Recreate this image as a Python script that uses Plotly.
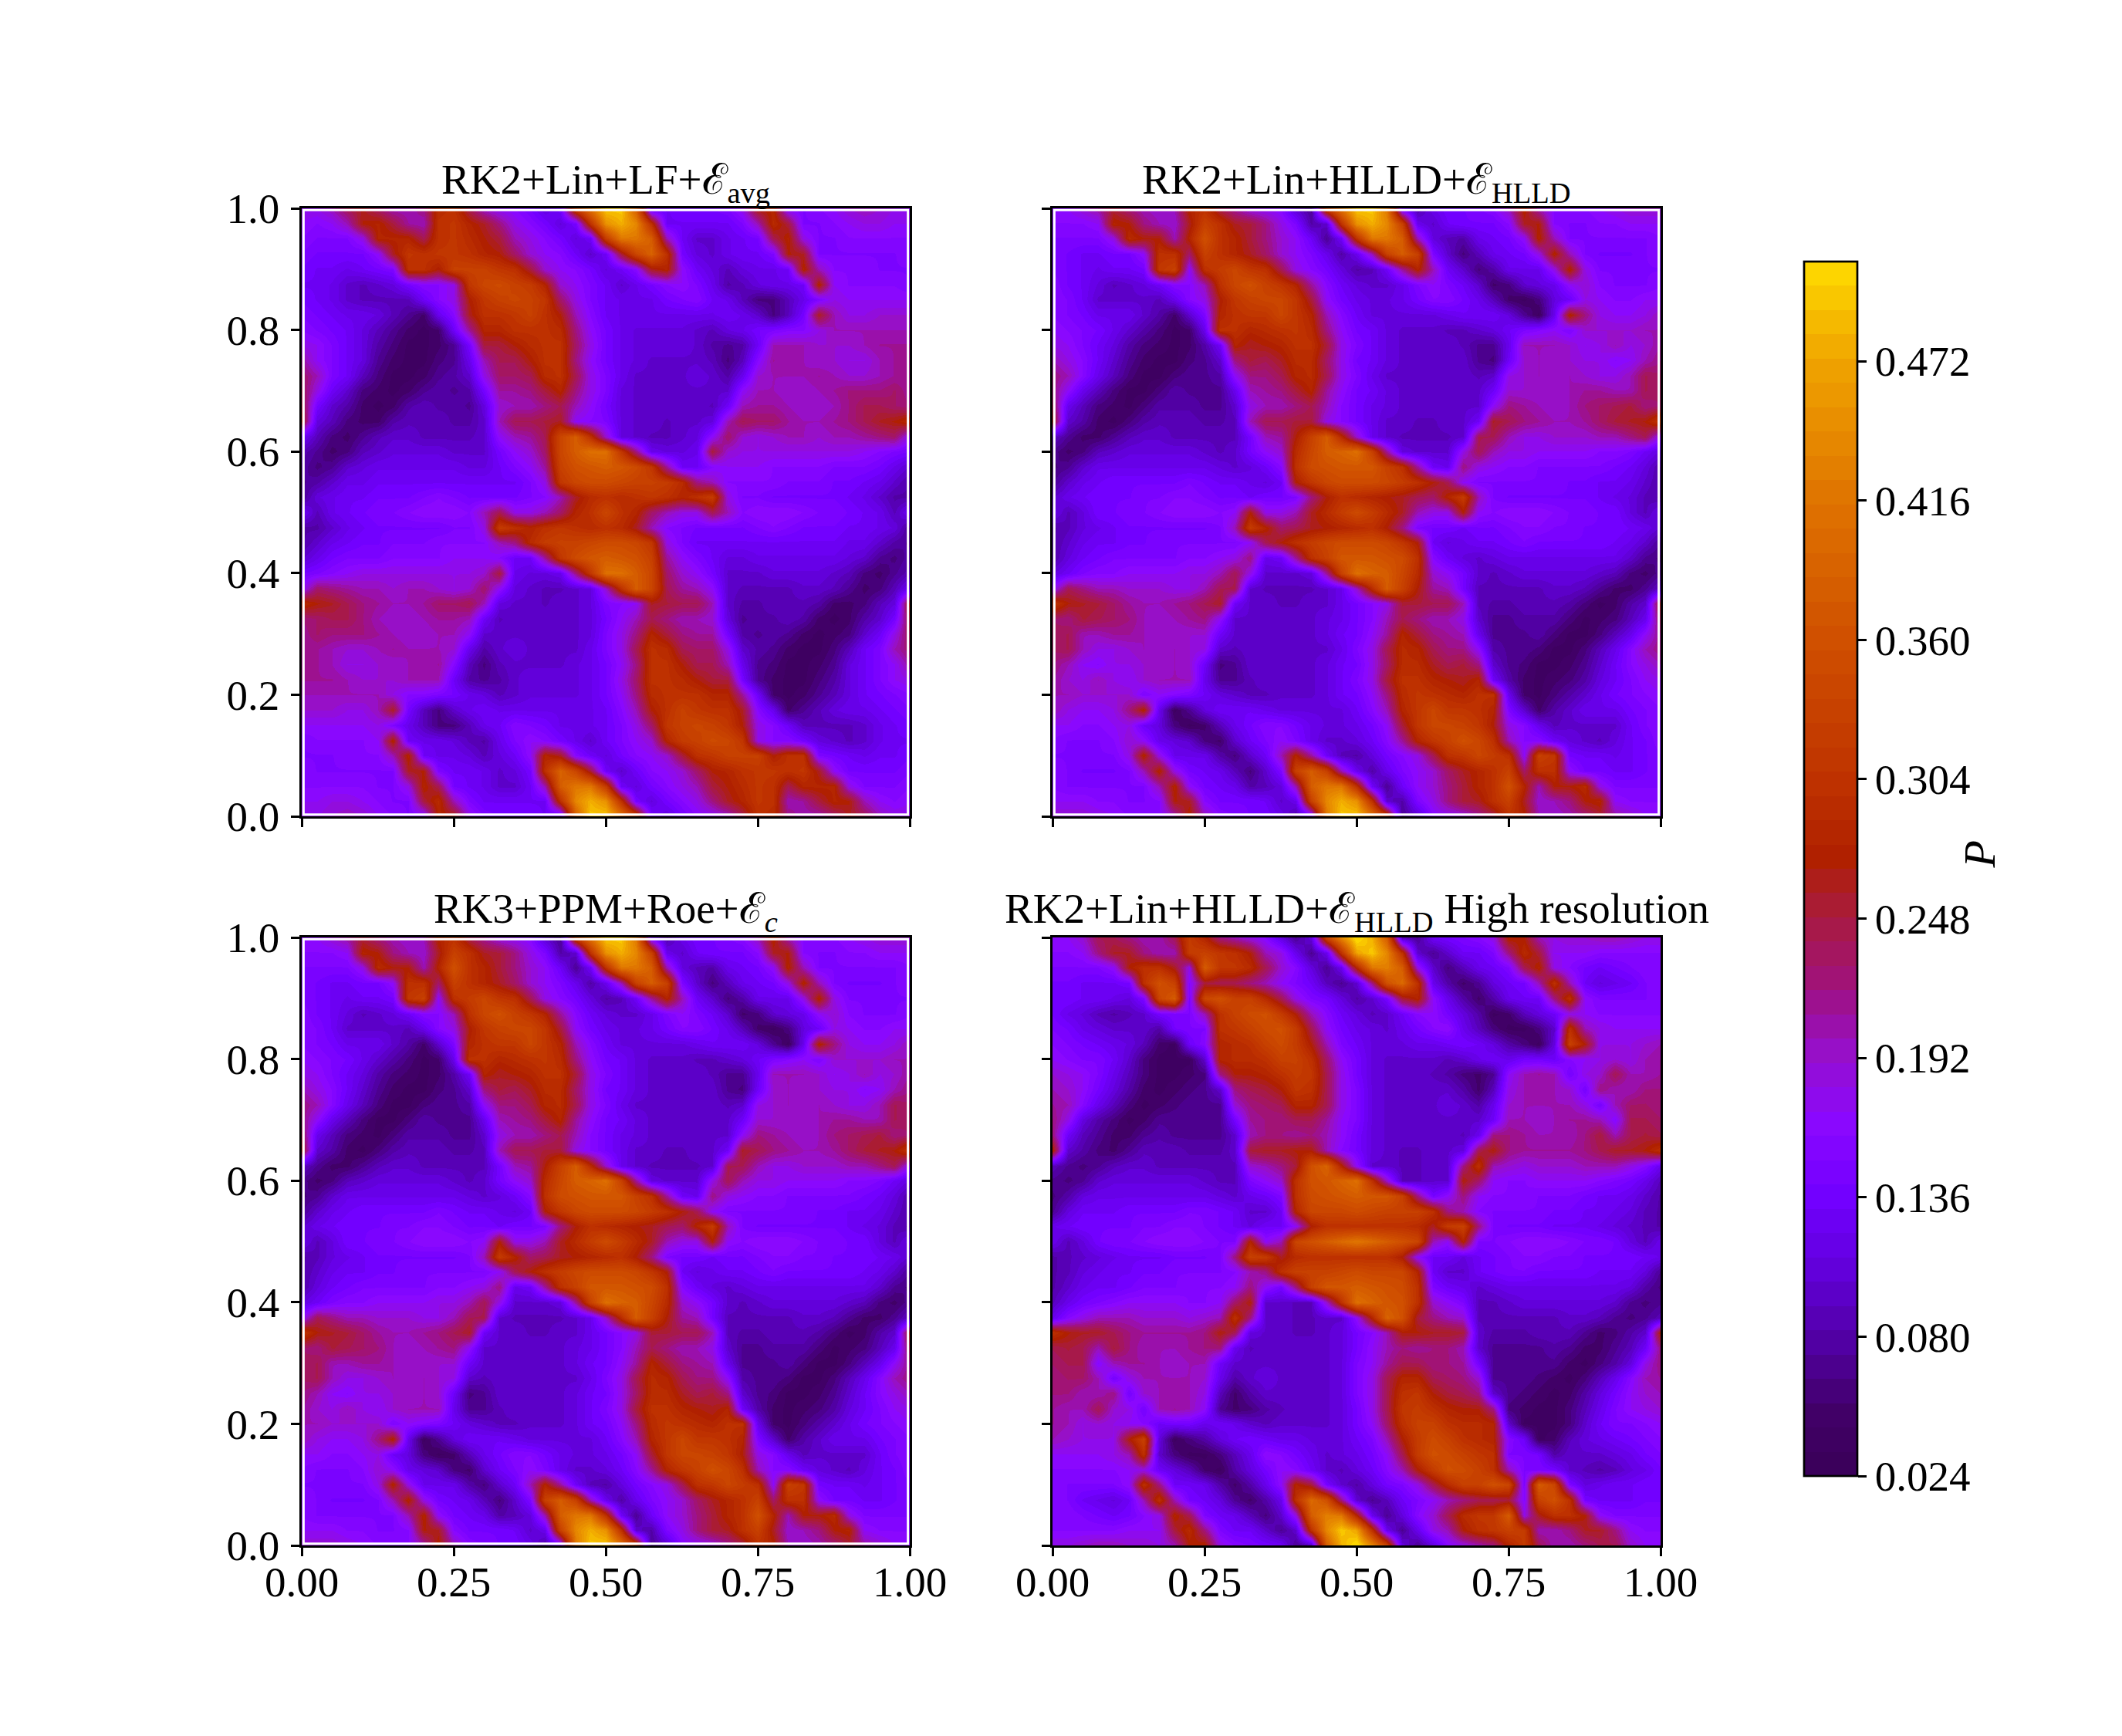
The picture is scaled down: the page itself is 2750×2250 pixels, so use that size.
import numpy as np
import plotly.graph_objects as go

# pressure, in hundredths, rows from y=1.0 down to y=0.5, 41 columns x=0..1
# the field is point symmetric so the lower half comes from these rows
P_LF = [
    [18,18,20,24,26,23,20,20,22,29,30,24,19,17,16,14,11,14,33,42,50,50,38,12,13,14,14,14,15,18,27,28,16,15,16,17,19,20,19,18,18],
    [17,16,17,20,27,28,25,21,20,30,31,28,26,22,18,16,14,11,14,30,45,48,44,30,13,13,13,13,13,15,20,29,25,15,15,16,17,18,18,17,17],
    [16,15,15,15,18,28,28,28,24,30,31,29,27,25,20,18,16,14,11,13,32,42,42,38,20,13,10,10,12,13,14,24,28,18,15,15,16,16,16,16,16],
    [15,14,14,14,14,17,26,31,30,31,31,30,28,27,23,19,17,16,13,10,13,25,34,39,30,14,11,10,12,13,13,15,27,26,15,15,15,15,15,15,16],
    [14,13,13,12,13,14,15,30,30,27,33,33,33,31,30,25,19,17,16,14,11,13,16,26,28,17,13,11,9,11,12,12,13,28,20,16,16,16,15,15,15],
    [13,13,12,10,9,10,11,14,16,16,18,31,34,35,33,32,28,19,17,15,13,10,12,14,16,17,15,12,8,9,11,12,12,13,28,17,16,16,16,16,15],
    [14,13,12,10,9,9,9,9,13,16,18,27,31,33,34,33,31,23,18,15,13,12,12,12,14,15,16,13,12,9,6,6,9,12,15,18,17,17,17,17,17],
    [15,14,13,12,12,11,9,7,5,12,16,26,30,30,31,33,30,27,20,16,13,12,12,12,12,12,12,12,13,12,10,6,9,14,26,20,18,18,19,19,19],
    [16,15,14,13,11,9,7,5,4,5,13,21,28,28,30,30,30,29,22,17,14,12,11,11,11,11,10,9,11,12,14,15,16,16,18,20,20,20,20,20,20],
    [18,17,15,13,11,8,6,4,4,5,7,14,25,25,27,29,30,30,23,18,14,12,11,11,11,11,10,8,7,8,13,20,20,20,19,19,19,20,21,21,21],
    [21,17,15,13,11,7,5,4,4,6,7,12,20,24,24,27,30,30,22,17,14,12,11,10,10,10,10,9,6,9,16,21,20,20,19,19,18,18,20,21,21],
    [23,20,15,13,9,6,4,4,5,7,8,10,18,23,23,24,29,30,24,18,15,12,10,10,10,10,11,10,8,12,19,20,20,20,21,20,19,19,20,21,21],
    [24,18,13,10,6,5,4,5,7,8,7,8,14,21,21,22,25,28,22,18,15,11,10,10,10,10,10,10,10,17,20,20,19,19,20,21,22,22,22,23,21],
    [25,14,10,8,5,4,5,8,9,8,8,7,11,19,20,20,22,24,20,17,14,11,10,10,10,10,10,9,13,20,21,21,20,19,19,20,22,24,24,23,22],
    [27,11,9,6,5,5,8,9,9,9,8,8,10,20,24,24,25,26,17,16,15,11,10,10,9,10,10,11,20,24,23,23,21,20,20,21,22,24,26,27,29],
    [13,9,6,5,7,9,10,10,9,9,9,9,10,17,20,21,24,34,38,30,19,11,10,9,9,10,11,17,23,19,18,19,20,20,19,20,20,21,22,23,17],
    [9,7,5,6,9,10,11,11,11,11,10,10,10,14,17,19,23,34,38,41,41,31,22,12,11,11,12,25,19,18,18,18,18,18,18,18,18,17,16,15,14],
    [8,6,7,10,11,12,12,12,12,12,12,11,11,13,15,17,21,33,36,37,38,37,35,31,21,13,13,16,17,17,17,16,16,16,16,15,15,15,14,12,10],
    [7,8,10,12,12,13,13,13,13,13,13,13,13,13,13,15,18,31,34,35,35,34,33,33,32,29,22,20,16,16,16,16,15,15,15,14,14,13,12,10,8],
    [7,11,12,13,13,14,14,14,15,16,15,14,14,14,14,15,16,20,26,29,30,29,30,31,30,28,30,32,18,15,15,14,14,14,14,14,13,12,10,8,8],
    [13,9,12,13,14,15,15,16,17,17,17,16,20,24,18,18,20,23,28,30,34,30,28,23,20,18,18,24,20,16,17,17,17,16,15,15,14,13,12,9,13],
]

P_HLLD = [
    [17,17,19,21,25,22,20,19,20,28,30,24,21,18,17,16,10,7,33,42,50,50,42,14,8,12,14,14,15,16,20,28,20,16,16,16,17,18,19,19,19],
    [16,16,16,17,28,27,22,20,19,26,33,30,26,25,22,18,15,8,10,30,45,48,44,33,12,10,13,14,14,14,16,26,27,16,15,15,16,16,17,17,17],
    [15,15,15,15,18,29,27,27,20,28,36,30,28,25,22,19,17,13,7,13,30,42,42,38,20,11,9,8,12,13,14,17,28,20,15,15,15,15,15,15,16],
    [15,14,13,13,14,14,17,30,30,23,33,30,28,26,23,19,17,15,12,8,12,20,33,38,33,15,10,6,9,12,13,14,18,28,20,15,14,14,14,15,16],
    [15,14,13,12,13,13,14,31,33,17,30,32,34,31,30,24,18,16,14,11,8,9,13,21,28,20,13,10,6,8,12,12,12,18,28,18,15,15,15,15,15],
    [16,14,13,11,9,10,11,13,16,16,20,30,34,36,33,31,28,21,16,13,11,10,10,12,15,17,15,13,10,5,6,10,11,12,17,19,16,15,15,15,16],
    [16,15,13,10,10,10,10,9,12,16,18,27,31,33,34,34,31,25,17,14,12,11,11,12,14,16,16,14,12,9,5,4,6,11,13,18,17,16,16,17,17],
    [16,15,14,12,12,12,10,8,5,10,15,28,30,31,31,34,31,28,20,16,13,11,11,11,11,11,12,13,13,13,11,7,4,12,28,22,18,17,17,18,20],
    [17,16,15,14,12,10,8,6,4,5,12,30,30,28,29,30,31,29,22,17,14,13,11,10,10,10,9,9,10,11,13,15,16,17,15,19,19,19,19,20,20],
    [18,17,15,13,11,8,6,5,4,5,8,13,28,26,27,28,30,30,25,18,15,13,11,10,10,10,10,9,7,7,12,20,20,20,19,17,18,20,18,19,21],
    [20,18,16,13,10,7,5,4,4,6,7,10,22,25,24,26,29,29,23,18,14,13,11,10,10,10,10,10,7,6,13,19,20,19,19,18,18,16,17,20,22],
    [22,20,16,12,9,6,4,4,6,7,7,8,17,22,22,24,28,29,24,18,15,12,10,10,10,10,10,10,9,10,18,19,20,19,20,19,18,18,20,24,23],
    [22,17,12,9,6,4,4,6,8,7,7,7,12,20,21,22,25,28,21,17,14,13,11,10,10,10,10,10,10,13,19,19,19,19,20,21,21,20,20,24,23],
    [24,12,9,6,5,4,6,8,8,8,7,7,10,18,20,20,22,24,20,16,14,12,11,10,10,10,10,10,10,17,22,21,20,19,20,22,23,24,25,22,23],
    [27,10,8,5,4,6,8,9,9,9,8,8,9,20,24,24,25,25,18,16,14,12,10,10,9,9,10,10,13,26,24,22,21,20,20,21,23,25,26,27,31],
    [10,7,5,5,7,9,10,10,9,9,9,9,9,14,20,21,27,33,38,29,19,12,10,9,9,9,9,10,24,24,20,18,18,19,19,19,20,20,22,24,17],
    [7,5,6,9,10,11,11,11,11,11,10,9,10,14,17,19,29,34,38,39,41,33,21,11,10,10,10,18,24,20,18,18,17,17,17,17,16,16,15,13,11],
    [6,7,10,12,12,12,12,12,12,12,12,11,10,11,13,16,30,35,36,37,37,37,33,30,21,13,12,22,18,17,16,16,15,15,15,15,15,14,13,11,8],
    [7,10,12,13,14,14,14,14,14,15,14,13,13,12,11,13,27,31,34,35,35,35,34,32,30,27,24,17,15,15,15,15,15,15,14,14,13,13,12,10,8],
    [10,12,13,14,14,14,15,15,16,16,15,14,14,13,14,14,15,22,27,30,29,28,27,26,24,23,28,32,20,15,14,14,14,14,14,14,13,12,11,9,8],
    [12,9,11,14,14,15,15,16,17,17,17,16,17,27,18,18,20,26,29,32,35,32,29,26,20,18,18,27,17,16,17,17,17,16,15,15,14,14,11,9,12],
]

P_HIGH = [
    [17,17,19,24,24,22,20,20,24,32,28,22,20,18,16,11,7,11,34,44,52,48,38,9,7,13,14,15,16,18,28,27,20,18,19,19,20,20,19,18,18],
    [16,16,17,22,26,26,22,20,20,32,33,31,30,27,20,18,12,7,12,30,47,50,44,30,10,7,10,13,13,15,22,29,25,17,17,17,16,16,16,16,16],
    [15,15,15,15,17,27,30,30,26,18,38,31,31,29,24,19,16,11,7,12,28,42,43,38,18,10,6,9,12,13,15,24,28,18,16,14,13,14,15,16,16],
    [14,14,13,13,13,14,30,36,33,16,25,24,24,22,20,17,15,13,9,7,10,22,36,40,30,12,8,5,7,11,13,14,20,30,20,13,11,12,13,15,16],
    [14,14,13,13,12,11,15,34,38,15,34,36,33,33,29,24,18,15,14,11,8,10,14,25,28,17,12,8,5,8,12,13,13,22,30,17,15,15,15,15,16],
    [14,12,11,9,8,9,10,14,15,15,20,30,33,35,36,32,27,20,16,13,11,9,10,13,16,17,14,11,8,4,5,9,11,13,18,17,16,16,16,16,16],
    [15,14,12,11,10,10,10,8,14,15,15,30,31,33,35,36,32,24,17,14,12,11,10,12,14,16,17,12,9,6,4,4,6,10,30,20,18,17,17,17,17],
    [16,15,14,13,12,11,9,5,4,13,16,28,29,30,33,35,32,27,20,15,13,11,11,11,12,12,13,14,13,11,8,6,4,11,33,27,18,18,18,19,20],
    [17,16,15,15,13,10,6,4,4,4,10,28,29,29,30,33,33,30,23,17,14,11,10,10,10,10,9,10,12,13,12,14,14,13,16,17,18,19,18,20,21],
    [19,18,17,15,12,9,6,4,4,5,6,22,27,27,28,30,32,31,24,18,14,11,10,10,10,9,8,6,5,7,17,20,21,20,14,18,19,24,20,20,21],
    [20,19,17,14,11,8,5,4,5,6,7,10,22,24,25,27,31,30,24,18,15,11,10,10,10,10,10,8,5,9,18,20,20,20,19,14,22,20,20,22,22],
    [21,20,16,12,9,6,4,5,6,7,7,7,19,22,23,24,28,28,24,18,15,11,10,10,10,10,11,10,8,12,19,20,20,20,20,18,14,20,23,23,22],
    [22,18,11,8,6,4,5,7,7,7,7,7,14,21,22,22,24,24,21,17,15,11,10,10,10,10,10,10,10,13,20,20,19,20,21,21,20,16,24,24,23],
    [22,13,9,7,5,5,7,8,7,7,7,7,10,20,22,22,21,22,20,17,14,11,10,10,10,10,10,9,12,22,22,21,20,20,20,22,25,20,24,25,24],
    [28,10,8,6,5,7,9,9,9,8,8,8,10,25,26,26,27,27,20,16,14,11,10,9,9,10,10,11,24,27,22,21,21,21,21,22,24,26,26,27,30],
    [9,7,6,7,9,10,10,9,9,9,9,9,9,19,20,22,25,36,39,28,17,10,10,9,9,10,10,22,30,20,19,18,19,19,19,20,20,20,18,16,12],
    [7,6,7,10,11,11,11,11,11,11,10,9,9,15,17,19,30,36,37,39,41,30,19,9,9,10,10,27,23,17,16,16,17,17,17,17,16,15,14,12,9],
    [6,8,11,12,12,12,12,12,12,12,12,11,10,12,13,15,30,35,36,37,38,37,37,33,22,14,17,22,17,16,16,16,15,15,15,14,13,13,12,10,8],
    [7,11,13,13,13,14,14,14,14,15,15,14,13,10,10,13,28,34,34,34,35,34,33,33,33,30,22,20,16,15,15,15,15,14,14,13,13,12,11,9,8],
    [12,13,14,14,14,14,15,15,16,16,15,14,13,11,13,13,17,27,30,30,30,30,30,30,29,26,32,33,22,15,14,14,14,13,13,13,12,11,10,9,8],
    [12,9,11,14,15,15,16,17,17,17,16,15,15,28,17,20,34,36,38,40,42,40,38,36,34,20,17,28,15,15,16,17,17,17,16,15,15,14,11,9,12],
]

titles = ["RK2+Lin+LF+ℰ<sub>avg</sub>", "RK2+Lin+HLLD+ℰ<sub>HLLD</sub>",
          "RK3+PPM+Roe+ℰ<sub><i>c</i></sub>", "RK2+Lin+HLLD+ℰ<sub>HLLD</sub> High resolution"]
xgrid = [i / 40 for i in range(41)]
ygrid = [j / 40 for j in range(41)]
xticks = [0, 0.25, 0.5, 0.75, 1]
yticks = [0, 0.2, 0.4, 0.6, 0.8, 1]
cbar_ticks = [0.024, 0.08, 0.136, 0.192, 0.248, 0.304, 0.36, 0.416, 0.472]
zmin, zmax = 0.024, 0.512

# colour anchors taken from the colorbar
cmap_vals = [0.024, 0.05, 0.08, 0.11, 0.136, 0.165, 0.192, 0.22, 0.25, 0.262, 0.272, 0.304, 0.36, 0.416, 0.472, 0.512]
cmap_cols = ["#3a0058", "#420068", "#5300a8", "#6400e0", "#7200ff", "#8a08ff", "#9610d0", "#a0127f",
             "#aa1c3c", "#ad1e1e", "#b02000", "#bf3300", "#d05000", "#e07400", "#f0a400", "#ffdc00"]


def full_field(rows):
    top = np.array(rows) / 100
    lower = top[:-1, ::-1]        # y=0 up to just under y=0.5
    upper = top[::-1]             # y=0.5 up to y=1
    return np.vstack([lower, upper])


def stepped_scale(n=50):
    rgb = np.array([[int(c[i:i + 2], 16) for i in (1, 3, 5)] for c in cmap_cols])
    scale = []
    for k in range(n):
        mid = zmin + (k + 0.5) / n * (zmax - zmin)
        col = [int(np.interp(mid, cmap_vals, rgb[:, m])) for m in range(3)]
        txt = f"rgb({col[0]},{col[1]},{col[2]})"
        scale.append([k / n, txt])
        scale.append([(k + 1) / n, txt])
    return scale


W, H = 2750, 2250
FONT = "Liberation Serif"
# the page adds 8 px around the figure, these are figure pixels
col_px = [(383, 1171), (1356, 2144)]
row_px = [(262, 1050), (1207, 1995)]

fields = [full_field(P_LF), full_field(P_HLLD), full_field(P_HLLD), full_field(P_HIGH)]

fig = go.Figure()
for n in range(4):
    r, c = n // 2, n % 2
    x0, x1 = col_px[c]
    y0, y1 = row_px[r]
    name = "" if n == 0 else str(n + 1)
    fig.add_trace(go.Heatmap(x=xgrid, y=ygrid, z=fields[n], xaxis="x" + name, yaxis="y" + name,
                             coloraxis="coloraxis", zsmooth="best", hoverinfo="skip"))
    axis = dict(ticks="outside", ticklen=11, tickwidth=2.7, tickcolor="black", linecolor="black",
                linewidth=2.7, mirror=True, showgrid=False, zeroline=False,
                tickfont=dict(family=FONT, size=55, color="black"))
    fig.update_layout({
        "xaxis" + name: dict(axis, domain=[x0 / W, x1 / W], range=[0, 1], tickvals=xticks,
                             tickformat=".2f", showticklabels=r == 1, anchor="y" + name,
                             ticklabelstandoff=-14),
        "yaxis" + name: dict(axis, domain=[1 - y1 / H, 1 - y0 / H], range=[0, 1], tickvals=yticks,
                             tickformat=".1f", showticklabels=c == 0, anchor="x" + name,
                             ticklabelstandoff=4),
    })
    fig.add_annotation(text=titles[n], xref="paper", yref="paper", x=(x0 + x1) / 2 / W,
                       y=1 - (y0 + 3) / H, xanchor="center", yanchor="bottom", showarrow=False,
                       font=dict(family=FONT, size=55, color="black"))
    if n < 3:
        # thin white edge left by the contour plot along the frame
        fig.add_shape(type="rect", xref=("x" + name + " domain"), yref=("y" + name + " domain"),
                      x0=0.003, x1=0.997, y0=0.003, y1=0.997, line=dict(color="white", width=3))

fig.add_annotation(text="<i>P</i>", xref="paper", yref="paper", x=2591 / W, y=1 - 1100 / H,
                   textangle=-90, showarrow=False, font=dict(family=FONT, size=58, color="black"))

fig.update_layout(
    width=W, height=H, margin=dict(l=0, r=0, t=0, b=0, autoexpand=False),
    paper_bgcolor="white", plot_bgcolor="white", showlegend=False,
    coloraxis=dict(
        cmin=zmin, cmax=zmax, colorscale=stepped_scale(),
        colorbar=dict(
            x=2330 / W, xanchor="left", y=1 - 1905 / H, yanchor="bottom", xpad=0, ypad=0,
            len=(1905 - 331) / H, lenmode="fraction", thickness=69, thicknessmode="pixels",
            outlinecolor="black", outlinewidth=2.7, tickvals=cbar_ticks, tickformat=".3f",
            ticks="outside", ticklen=11, tickwidth=2.7, tickcolor="black",
            tickfont=dict(family=FONT, size=55, color="black"),
        ),
    ),
)

fig.write_html("out.html")
